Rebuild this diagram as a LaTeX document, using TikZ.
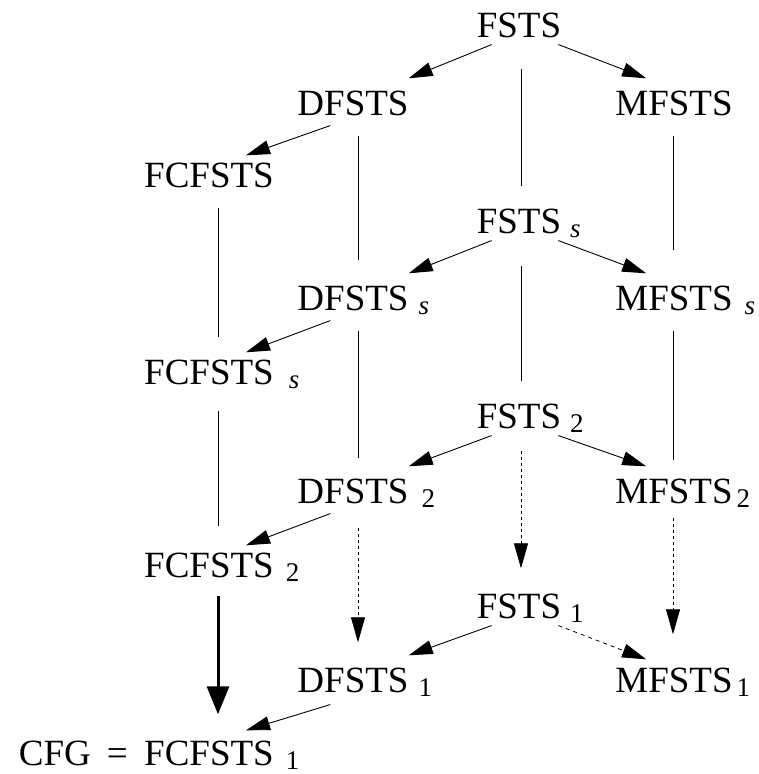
\documentclass[tikz,border=0pt]{standalone}
\usepackage{fontspec}
\setmainfont{Liberation Serif}
\usetikzlibrary{arrows.meta}
% lowered index set after a name, kept out of the node's box
\newcommand\idx[2][10pt]{\rlap{\smash{\hspace{#1}\raisebox{-4pt}{\fontsize{27}{27}\selectfont #2}}}}
\begin{document}
\begin{tikzpicture}[x=1pt,y=-1pt,
  lab/.style={inner sep=0pt, anchor=base, font=\fontsize{37}{40}\selectfont},
  rule/.style={line width=0.6pt},
  arr/.style={line width=0.9pt, -{Triangle[length=24pt,width=14pt]}},
  dotarr/.style={line width=0.8pt, dash pattern=on 3pt off 3pt, -{Triangle[length=25pt,width=14pt]}},
  dasharr/.style={line width=0.8pt, dash pattern=on 4pt off 4pt, -{Triangle[length=24pt,width=14pt]}},
  thickarr/.style={line width=3pt, -{Triangle[length=28pt,width=22pt]}}
]
\fill[white] (0,0) rectangle (759,774);
\useasboundingbox (0,0) rectangle (759,774);

% names
\node[lab] (fsts)   at (519,37)  {FSTS};
\node[lab] (dfsts)  at (353,115) {DFSTS};
\node[lab] (mfsts)  at (674,115) {MFSTS};
\node[lab] (fcf)    at (209,187) {FCFSTS};
\node[lab] (fstss)  at (519,233) {FSTS\idx[9pt]{\textit{s}}};
\node[lab] (dfstss) at (353,310) {DFSTS\idx[10pt]{\textit{s}}};
\node[lab] (mfstss) at (674,310) {MFSTS\idx[12pt]{\textit{s}}};
\node[lab] (fcfs)   at (209,384) {FCFSTS\idx[15pt]{\textit{s}}};
\node[lab] (fsts2)  at (519,428) {FSTS\idx[9pt]{2}};
\node[lab] (dfsts2) at (353,503) {DFSTS\idx[13pt]{2}};
\node[lab] (mfsts2) at (674,503) {MFSTS\idx[4pt]{2}};
\node[lab] (fcf2)   at (209,577) {FCFSTS\idx[12pt]{2}};
\node[lab] (fsts1)  at (519,618) {FSTS\idx[9pt]{1}};
\node[lab] (dfsts1) at (353,692) {DFSTS\idx[10pt]{1}};
\node[lab] (mfsts1) at (674,692) {MFSTS\idx[4pt]{1}};
\node[lab] (fcf1)   at (209,765) {FCFSTS\idx[12pt]{1}};
\node[lab, anchor=base east] (cfg) at ([xshift=-16pt]fcf1.base west) {CFG\hspace{16pt}=};

% vertical links
\draw[rule] ([xshift=2pt,yshift=-31pt]fsts.south)   -- ([xshift=2pt,yshift=22pt]fstss.north);
\draw[rule] ([xshift=5pt,yshift=-20pt]dfsts.south)  -- ([xshift=5pt,yshift=25pt]dfstss.north);
\draw[rule] ([xshift=-1pt,yshift=-20pt]mfsts.south) -- ([xshift=-1pt,yshift=35pt]mfstss.north);
\draw[rule] ([xshift=9pt,yshift=-20pt]fcf.south)    -- ([xshift=9pt,yshift=22pt]fcfs.north);
\draw[rule] ([xshift=2pt,yshift=-32pt]fstss.south)  -- ([xshift=2pt,yshift=22pt]fsts2.north);
\draw[rule] ([xshift=5pt,yshift=-20pt]dfstss.south) -- ([xshift=5pt,yshift=20pt]dfsts2.north);
\draw[rule] ([xshift=-1pt,yshift=-20pt]mfstss.south) -- ([xshift=-1pt,yshift=18pt]mfsts2.north);
\draw[rule] ([xshift=9pt,yshift=-26pt]fcfs.south)   -- ([xshift=9pt,yshift=26pt]fcf2.north);
\draw[dotarr] ([xshift=2pt,yshift=-22pt]fsts2.south)  -- ([xshift=2pt,yshift=25pt]fsts1.north);
\draw[dotarr] ([xshift=5pt,yshift=-24pt]dfsts2.south) -- ([xshift=5pt,yshift=25pt]dfsts1.north);
\draw[dotarr] ([xshift=-1pt,yshift=-14pt]mfsts2.south) -- ([xshift=-1pt,yshift=33pt]mfsts1.north);
\draw[thickarr] ([xshift=9pt,yshift=-18pt]fcf2.south) -- ([xshift=9pt,yshift=26pt]fcf1.north);

% slanted links
\draw[arr] ([xshift=15pt,yshift=-7pt]fsts.south west) -- ([yshift=12pt]dfsts.north east);
\draw[arr] ([xshift=-3pt,yshift=-7pt]fsts.south east) -- ([xshift=31pt,yshift=12pt]mfsts.north west);
\draw[arr] ([xshift=33pt,yshift=-10pt]dfsts.south west) -- ([xshift=-28pt,yshift=7pt]fcf.north east);

\draw[arr] ([xshift=15pt,yshift=-7pt]fstss.south west) -- ([yshift=12pt]dfstss.north east);
\draw[arr] ([xshift=-3pt,yshift=-7pt]fstss.south east) -- ([xshift=31pt,yshift=12pt]mfstss.north west);
\draw[arr] ([xshift=33pt,yshift=-10pt]dfstss.south west) -- ([xshift=-28pt,yshift=7pt]fcfs.north east);

\draw[arr] ([xshift=15pt,yshift=-7pt]fsts2.south west) -- ([yshift=12pt]dfsts2.north east);
\draw[arr] ([xshift=-3pt,yshift=-7pt]fsts2.south east) -- ([xshift=31pt,yshift=12pt]mfsts2.north west);
\draw[arr] ([xshift=33pt,yshift=-10pt]dfsts2.south west) -- ([xshift=-28pt,yshift=7pt]fcf2.north east);

\draw[arr] ([xshift=15pt,yshift=-7pt]fsts1.south west) -- ([yshift=12pt]dfsts1.north east);
\draw[dasharr] ([xshift=-3pt,yshift=-7pt]fsts1.south east) -- ([xshift=31pt,yshift=8pt]mfsts1.north west);
\draw[arr] ([xshift=33pt,yshift=-12pt]dfsts1.south west) -- ([xshift=-28pt,yshift=10pt]fcf1.north east);
\end{tikzpicture}
\end{document}
